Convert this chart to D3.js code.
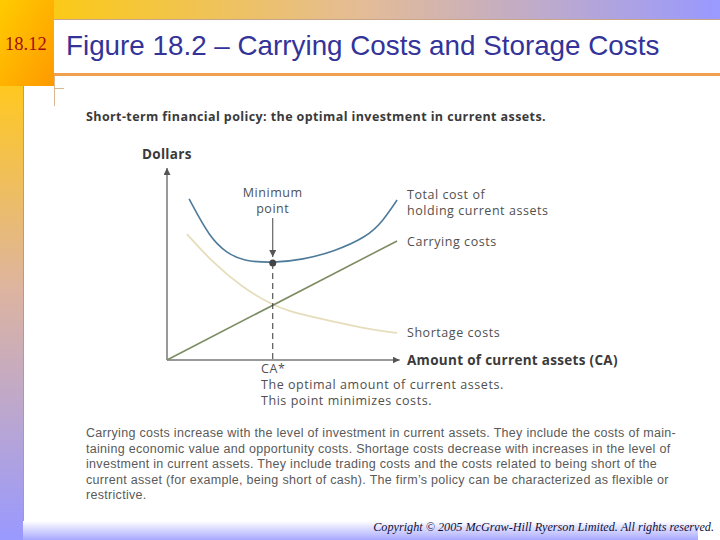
<!DOCTYPE html>
<html>
<head>
<meta charset="utf-8">
<script src="https://cdn.jsdelivr.net/npm/d3@7"></script>
<style>
  body { margin: 0; background: #fff; }
  svg { display: block; }
</style>
</head>
<body>
<div id="plot"></div>
<script>
// values (amount of CA 0..100, dollars 0..100)
const TOTAL_X = [9.4, 18.3, 25.5, 32.3, 45, 57.9, 70.6, 85.1, 91.9, 97.9];
const TOTAL_Y = [83.9, 63.5, 55.7, 51.6, 50.5, 52.3, 56.3, 64.1, 72.4, 83.3];

const SHORT_X = [8.5, 18.3, 32.3, 45, 52.3, 60.9, 70.6, 85.1, 97.9];
const SHORT_Y = [65.6, 52.1, 37.5, 28.6, 25.3, 22.7, 20.1, 16.1, 14.1];

const CARRY_X = [0, 97.9];
const CARRY_Y = [0, 62];

const CA_STAR = 45;
const CA_STAR_COST = 50.5;

const TITLE = "Figure 18.2 \u2013 Carrying Costs and Storage Costs";
const SUBTITLE = "Short-term financial policy: the optimal investment in current assets.";
const CAPTION = [
  "Carrying costs increase with the level of investment in current assets. They include the costs of main-",
  "taining economic value and opportunity costs. Shortage costs decrease with increases in the level of",
  "investment in current assets. They include trading costs and the costs related to being short of the",
  "current asset (for example, being short of cash). The firm\u2019s policy can be characterized as flexible or",
  "restrictive."
];

const width = 720, height = 540;

const svg = d3.select("#plot")
  .append("svg")
    .attr("width", width)
    .attr("height", height);

const defs = svg.append("defs");

// slide decoration gradients
function grad(id, x2, y2, stops) {
  let g = defs.append("linearGradient").attr("id", id)
    .attr("x1", 0).attr("y1", 0).attr("x2", x2).attr("y2", y2);
  stops.forEach(function(s) {
    g.append("stop").attr("offset", s[0]).attr("stop-color", s[1]);
  });
}
grad("topBand", 1, 0, [[0, "#FFCC00"], [0.5, "#E4BC96"], [1, "#9999FF"]]);
grad("leftBand", 0, 1, [[0, "#FFC820"], [0.45, "#DDB4A0"], [1, "#9999FF"]]);
grad("corner", 1, 1, [[0, "#FFCC00"], [1, "#FF9900"]]);
grad("bottomBand", 0, 1, [[0, "#FFFFFF"], [1, "#A8A8FF"]]);

svg.append("rect").attr("x", 0).attr("y", 0).attr("width", width).attr("height", 19)
  .attr("fill", "url(#topBand)");
svg.append("rect").attr("x", 0).attr("y", 86).attr("width", 23).attr("height", height - 86)
  .attr("fill", "url(#leftBand)");
svg.append("line").attr("x1", 23.5).attr("x2", 23.5).attr("y1", 86).attr("y2", 522)
  .attr("stroke", "#B89890").attr("stroke-width", 1);
svg.append("rect").attr("x", 23).attr("y", 521).attr("width", 675).attr("height", 19)
  .attr("fill", "url(#bottomBand)");
svg.append("rect").attr("x", 0).attr("y", 0).attr("width", 54).attr("height", 86)
  .attr("fill", "url(#corner)");

// title box
svg.append("line").attr("x1", 54).attr("x2", width).attr("y1", 19.5).attr("y2", 19.5)
  .attr("stroke", "#C8A488").attr("stroke-width", 1);
svg.append("rect").attr("x", 54).attr("y", 73).attr("width", width - 54).attr("height", 3)
  .attr("fill", "#F0A050");
svg.append("line").attr("x1", 54).attr("x2", 64).attr("y1", 88.5).attr("y2", 88.5)
  .attr("stroke", "#D8B890");
svg.append("line").attr("x1", 54.5).attr("x2", 54.5).attr("y1", 76).attr("y2", 106)
  .attr("stroke", "#D8B890");

svg.append("text")
  .attr("x", 5).attr("y", 50)
  .style("font-family", "Liberation Serif, serif")
  .style("font-size", "18.5px")
  .style("fill", "#A01010")
  .text("18.12");

svg.append("text")
  .attr("x", 66).attr("y", 55)
  .style("font-family", "Liberation Sans, Arial, sans-serif")
  .style("font-size", "27.8px")
  .style("fill", "#333399")
  .text(TITLE);

svg.append("text")
  .attr("x", 86).attr("y", 121)
  .style("font-family", "Open Sans, sans-serif")
  .style("font-size", "12.5px")
  .style("letter-spacing", "0.4px")
  .style("font-weight", "bold")
  .style("fill", "#3a3a3a")
  .text(SUBTITLE);

// scales
let x = d3.scaleLinear().domain([0, 100]).range([167, 402]);
let y = d3.scaleLinear().domain([0, 100]).range([360, 168]);

defs.append("marker")
  .attr("id", "arrow")
  .attr("viewBox", "0 0 10 10")
  .attr("refX", 10).attr("refY", 5)
  .attr("markerWidth", 7).attr("markerHeight", 7)
  .attr("markerUnits", "userSpaceOnUse")
  .attr("orient", "auto")
  .append("path")
    .attr("d", "M0,0 L10,5 L0,10 z")
    .attr("fill", "#555");

// axes as arrows
svg.append("line")
  .attr("x1", x(0)).attr("y1", y(0)).attr("x2", x(0)).attr("y2", y(100))
  .attr("stroke", "#777").attr("stroke-width", 1.5)
  .attr("marker-end", "url(#arrow)");
svg.append("line")
  .attr("x1", x(0)).attr("y1", y(0)).attr("x2", x(99)).attr("y2", y(0))
  .attr("stroke", "#777").attr("stroke-width", 1.5)
  .attr("marker-end", "url(#arrow)");

svg.append("text")
  .attr("x", 142).attr("y", 159)
  .style("font-family", "Open Sans, sans-serif")
  .style("font-size", "13.5px")
  .style("letter-spacing", "0.3px")
  .style("font-weight", "bold")
  .style("fill", "#3a3a3a")
  .text("Dollars");

svg.append("text")
  .attr("x", x(100) + 5).attr("y", y(0) + 4.5)
  .style("font-family", "Open Sans, sans-serif")
  .style("font-size", "13.5px")
  .style("letter-spacing", "0.3px")
  .style("font-weight", "bold")
  .style("fill", "#3a3a3a")
  .text("Amount of current assets (CA)");

// curves
let line = d3.line()
  .x(function(d) { return x(d[0]); })
  .y(function(d) { return y(d[1]); })
  .curve(d3.curveBasis);

svg.append("path")
  .datum(d3.zip(SHORT_X, SHORT_Y))
  .attr("d", line)
  .attr("fill", "none")
  .attr("stroke", "#E6DDBC")
  .attr("stroke-width", 1.8);

svg.append("path")
  .datum(d3.zip(CARRY_X, CARRY_Y))
  .attr("d", line)
  .attr("fill", "none")
  .attr("stroke", "#7D8C62")
  .attr("stroke-width", 1.6);

svg.append("path")
  .datum(d3.zip(TOTAL_X, TOTAL_Y))
  .attr("d", line)
  .attr("fill", "none")
  .attr("stroke", "#4F7B9A")
  .attr("stroke-width", 1.6);

// optimum marker
svg.append("line")
  .attr("x1", x(CA_STAR)).attr("x2", x(CA_STAR))
  .attr("y1", y(CA_STAR_COST)).attr("y2", y(0))
  .attr("stroke", "#333").attr("stroke-width", 1)
  .attr("stroke-dasharray", "6,4");

svg.append("circle")
  .attr("cx", x(CA_STAR)).attr("cy", y(CA_STAR_COST))
  .attr("r", 3.5)
  .attr("fill", "#444");

svg.append("line")
  .attr("x1", x(CA_STAR)).attr("x2", x(CA_STAR))
  .attr("y1", y(CA_STAR_COST) - 45).attr("y2", y(CA_STAR_COST) - 6)
  .attr("stroke", "#444").attr("stroke-width", 1)
  .attr("marker-end", "url(#arrow)");

let labelFont = "Open Sans, sans-serif";
function label(tx, ty, txt, anchor) {
  svg.append("text")
    .attr("x", tx).attr("y", ty)
    .attr("text-anchor", anchor || "start")
    .style("font-family", labelFont)
    .style("font-size", "12.5px")
    .style("letter-spacing", "0.55px")
    .style("fill", "#505050")
    .text(txt);
}
label(x(CA_STAR), 197, "Minimum", "middle");
label(x(CA_STAR), 213, "point", "middle");
label(407, 199, "Total cost of");
label(407, 215, "holding current assets");
label(407, 246, "Carrying costs");
label(407, 337, "Shortage costs");
label(261, 373, "CA*");
label(261, 389, "The optimal amount of current assets.");
label(261, 405, "This point minimizes costs.");

// caption
svg.append("g")
  .selectAll("text")
  .data(CAPTION)
  .enter()
  .append("text")
    .attr("x", 86)
    .attr("y", function(d, i) { return 437 + i * 15.5; })
    .style("font-family", "Liberation Sans, Arial, sans-serif")
    .style("font-size", "12.5px")
    .style("letter-spacing", "0.3px")
    .style("fill", "#5a5a5a")
    .text(function(d) { return d; });

svg.append("text")
  .attr("x", 714).attr("y", 531)
  .attr("text-anchor", "end")
  .style("font-family", "Liberation Serif, serif")
  .style("font-style", "italic")
  .style("font-size", "12.2px")
  .style("fill", "#10103a")
  .text("Copyright \u00A9 2005 McGraw-Hill Ryerson Limited. All rights reserved.");
</script>
</body>
</html>
